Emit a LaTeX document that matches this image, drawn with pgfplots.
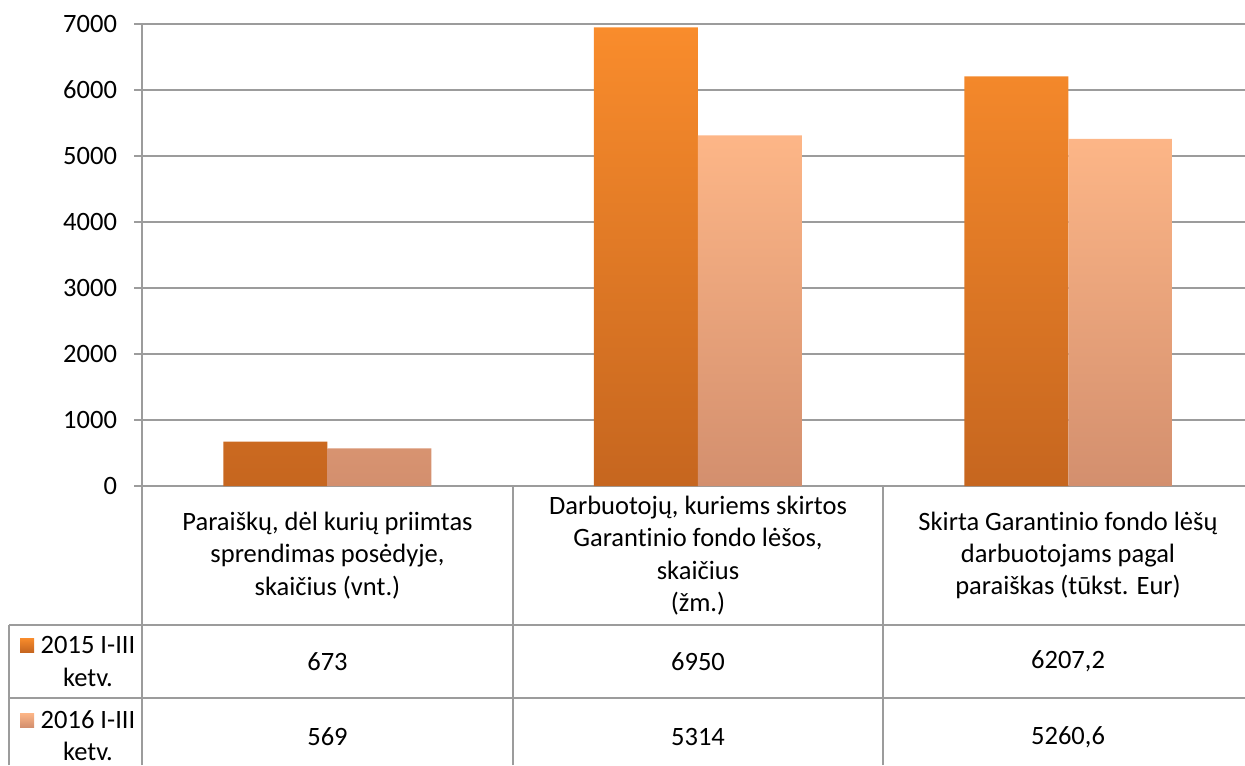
\documentclass[border=0pt]{standalone}
\usepackage{fontspec}
\setmainfont{Carlito}[Ligatures=NoCommon]
\usepackage{pgfplots}
\pgfplotsset{compat=1.18}

\definecolor{orTop}{HTML}{F98C2C}
\definecolor{orBot}{HTML}{C6661F}
\definecolor{peTop}{HTML}{FDB687}
\definecolor{peBot}{HTML}{D38F6E}
\definecolor{lineGray}{HTML}{9C9C9C}

\newcommand{\tfont}{\fontsize{13.3}{16.2}\selectfont}

\begin{document}
\begin{tikzpicture}[x=1bp,y=1bp]
\useasboundingbox (0,0) rectangle (622.5,382.5);
\begin{axis}[
    at={(71bp,139.5bp)}, anchor=south west,
    scale only axis,
    width=555.75bp, height=231bp,
    xmin=-0.5, xmax=2.5,
    ymin=0, ymax=7000,
    ytick={0,1000,...,7000},
    xtick=\empty,
    axis x line=bottom, axis y line=left,
    axis line style={lineGray, line width=0.75bp, -},
    ymajorgrids,
    grid style={lineGray, line width=0.75bp},
    tick style={lineGray, line width=0.75bp},
    major tick length=4bp,
    tick align=outside,
    yticklabel shift=5bp,
    /pgf/number format/assume math mode=true,
    /pgf/number format/1000 sep={},
    every tick label/.append style={font=\tfont},
    ybar, bar width=52bp,
    clip=false,
]
% 2015 I-III ketv.
\addplot[draw=none, bar shift=-26bp, top color=orTop, bottom color=orBot]
    coordinates {(0,673) (1,6950) (2,6207.2)};
% 2016 I-III ketv.
\addplot[draw=none, bar shift=26bp, top color=peTop, bottom color=peBot]
    coordinates {(0,569) (1,5314) (2,5260.6)};
\end{axis}

% data table
\begin{scope}[lineGray, line width=0.75bp]
  \draw (71,0) -- (71,139.5);
  \draw (256.5,0) -- (256.5,139.5);
  \draw (441.5,0) -- (441.5,139.5);
  \draw (4.5,0) -- (4.5,70);
  \draw (4.5,70) -- (622.5,70);
  \draw (4.5,33.5) -- (622.5,33.5);
\end{scope}

\begin{scope}[every node/.style={font=\tfont, align=center, inner sep=0pt}]
  \node at (163.75,104.75) {Paraiškų, dėl kurių priimtas\\sprendimas posėdyje,\\skaičius (vnt.)};
  \node at (349,104.75) {Darbuotojų, kuriems skirtos\\Garantinio fondo lėšos,\\skaičius\\(žm.)};
  \node at (534,104.75) {Skirta Garantinio fondo lėšų\\darbuotojams pagal\\paraiškas (tūkst. Eur)};

  \node at (44,51.75) {2015 I-III\\ketv.};
  \node at (44,14.5) {2016 I-III\\ketv.};

  \node at (163.75,51.75) {673};
  \node at (349,51.75) {6950};
  \node at (534,51.75) {6207,2};
  \node at (163.75,14) {569};
  \node at (349,14) {5314};
  \node at (534,14) {5260,6};
\end{scope}

% legend keys
\shade[top color=orTop, bottom color=orBot] (10,56.5) rectangle (17,63.5);
\shade[top color=peTop, bottom color=peBot] (10,19) rectangle (17,26);
\end{tikzpicture}
\end{document}
